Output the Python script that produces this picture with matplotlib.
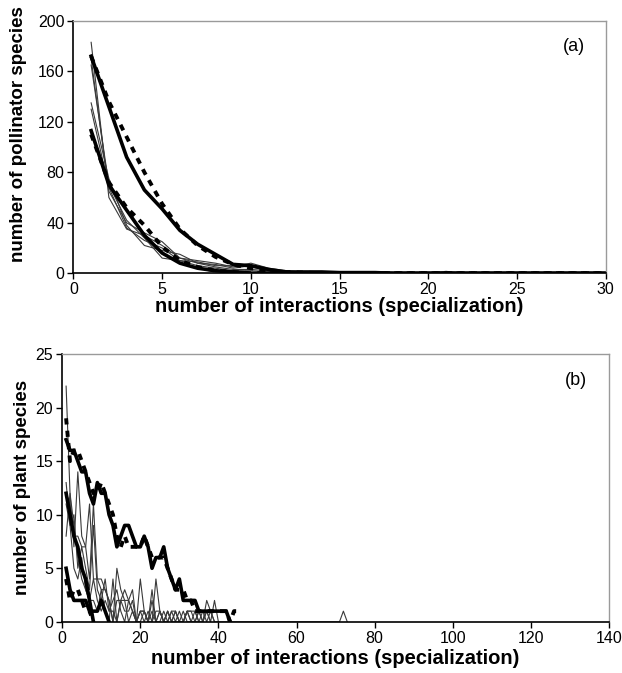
import numpy as np
import matplotlib.pyplot as plt

plt.rcParams["font.family"] = ["Liberation Sans", "DejaVu Sans"]

# -------------------- data: panel (a) pollinators --------------------
xa = np.arange(1, 31)
pad = lambda v, n=30: np.array(v + [0] * (n - len(v)), dtype=float)

a_thick_hi = pad([172, 132, 92, 66, 51, 34, 23, 15, 7, 6, 3, 1, 1, 1, 0.5, 0.5, 0.5])
a_dot_hi = pad([172, 136, 108, 80, 55, 35, 22, 13, 7, 4, 2, 1, 0.5])
a_thick_lo = pad([113, 70, 50, 30, 16, 8, 4, 2, 1])
a_dot_lo = pad([110, 72, 52, 38, 21, 10, 5, 2, 1])
a_thin = [
    pad([183, 60, 35, 30, 22, 12, 10, 8, 5, 8, 4, 2, 1, 1, 1, 0.5, 1, 0, 0, 0, 1.5, 0, 0, 0.5, 0, 0, 0.5, 0.5, 0, 0]),
    pad([170, 65, 40, 32, 25, 12, 8, 7, 4, 6, 3, 1, 1, 1, 0.5, 0.5, 0.5, 0, 0, 0.5]),
    pad([165, 70, 42, 28, 12, 10, 9, 6, 6, 5, 2, 1, 0.5, 0.5]),
    pad([135, 75, 38, 22, 18, 15, 8, 5, 3, 3, 2, 1, 0.5]),
    pad([130, 68, 36, 26, 20, 10, 6, 4, 2, 2, 1, 0.5]),
]

# -------------------- data: panel (b) plants --------------------
b_thick_hi = [17, 16, 16, 15, 14, 14, 12, 11, 13, 12, 12, 10, 9, 7, 8, 9, 9, 8, 7, 7,
              8, 7, 5, 6, 6, 7, 5, 4, 3, 4, 2, 2, 2, 2, 1, 1, 1, 1, 1, 1, 1, 1, 0]
b_dot_hi = [19, 15, 16, 16, 15, 14, 13, 12, 12, 13, 12, 11, 10, 8, 7, 8, 7, 7, 7, 7,
            8, 7, 6, 6, 6, 6, 5, 4, 3, 3, 3, 2, 2, 1, 1, 1, 1, 1, 1, 1, 1, 1, 0, 1, 1]
b_thick_mid = [12, 10, 8, 7, 5, 4, 2, 0]
b_thick_lo = [5, 3, 2, 2, 2, 2, 1, 1, 1, 2, 1, 0]
b_dot_lo = [4, 2, 3, 3, 2, 1, 1, 0]
b_thin = [
    [22, 12, 7, 14, 8, 7, 4, 11, 4, 4, 3, 2, 0, 5, 3, 2, 0, 1, 0, 0, 1, 0, 3, 0, 1, 0, 1, 0, 1, 0,
     1, 0, 0, 0, 1, 0, 1, 0, 2, 0, 0] + [0] * 30 + [1, 0],
    [12, 11, 8, 8, 7, 7, 11, 4, 4, 3, 3, 2, 0, 2, 2, 3, 2, 1, 0, 4, 1, 0, 2, 0, 1, 0, 0, 1, 0, 1,
     0, 1, 0, 0, 0, 1, 0, 1, 0, 0],
    [13, 9, 10, 5, 7, 5, 3, 9, 3, 2, 4, 1, 2, 3, 1, 0, 2, 3, 0, 1, 0, 1, 0, 4, 1, 0, 1, 0, 1, 0,
     0, 1, 0, 1, 0],
    [11, 9, 5, 4, 6, 3, 2, 2, 1, 3, 1, 0, 4, 0, 2, 1, 1, 2, 0, 1, 1, 0, 1, 0, 0, 1, 0, 1, 1, 0,
     0, 1, 1, 0, 1, 0, 2, 1, 0],
    [8, 12, 9, 6, 4, 3, 2, 4, 2, 1, 2, 1, 1, 0, 2, 2, 2, 1, 0, 1, 1, 0, 0, 1, 1, 0, 1, 0, 0, 0,
     0, 1, 1, 1, 0, 0, 1, 0],
]

THICK = dict(color="black", lw=2.6, solid_joinstyle="round")
DOTTED = dict(color="black", lw=2.8, ls=(0, (1.6, 1.6)))
THIN = dict(color="#3a3a3a", lw=0.8)


def style(ax):
    for s in ("top", "right"):
        ax.spines[s].set_color("#9a9a9a")
        ax.spines[s].set_linewidth(1.0)
    for s in ("left", "bottom"):
        ax.spines[s].set_color("black")
        ax.spines[s].set_linewidth(1.2)
    ax.tick_params(direction="out", length=4, width=1, labelsize=11.5, colors="black", pad=2.5)


fig = plt.figure(figsize=(6.22, 6.73), dpi=100)

# -------------------- (a) --------------------
ax1 = fig.add_axes([0.118, 0.594, 0.856, 0.375])
for y in a_thin:
    ax1.plot(xa, y, **THIN)
ax1.plot(xa, a_thick_hi, **THICK)
ax1.plot(xa, a_thick_lo, **THICK)
ax1.plot(xa, a_dot_hi, **DOTTED)
ax1.plot(xa, a_dot_lo, **DOTTED)
ax1.set_xlim(0, 30)
ax1.set_ylim(0, 200)
ax1.set_xticks(range(0, 31, 5))
ax1.set_yticks(range(0, 201, 40))
ax1.set_ylabel("number of pollinator species", fontsize=13.5, fontweight="bold")
ax1.yaxis.set_label_coords(-0.088, 0.55)
ax1.set_xlabel("number of interactions (specialization)", fontsize=14.5, fontweight="bold", labelpad=0)
ax1.text(0.96, 0.9, "(a)", transform=ax1.transAxes, fontsize=13, ha="right", va="center")
style(ax1)

# -------------------- (b) --------------------
ax2 = fig.add_axes([0.1, 0.076, 0.879, 0.398])
for y in b_thin:
    ax2.plot(np.arange(1, len(y) + 1), y, **THIN)
for y in (b_thick_hi, b_thick_mid, b_thick_lo):
    ax2.plot(np.arange(1, len(y) + 1), y, **THICK)
for y in (b_dot_hi, b_dot_lo):
    ax2.plot(np.arange(1, len(y) + 1), y, **DOTTED)
ax2.set_xlim(0, 140)
ax2.set_ylim(0, 25)
ax2.set_xticks(range(0, 141, 20))
ax2.set_yticks(range(0, 26, 5))
ax2.set_ylabel("number of plant species", fontsize=13.5, fontweight="bold", labelpad=3)
ax2.set_xlabel("number of interactions (specialization)", fontsize=14.5, fontweight="bold", labelpad=2)
ax2.text(0.96, 0.9, "(b)", transform=ax2.transAxes, fontsize=13, ha="right", va="center")
style(ax2)

fig.savefig("out.png", dpi=100)
